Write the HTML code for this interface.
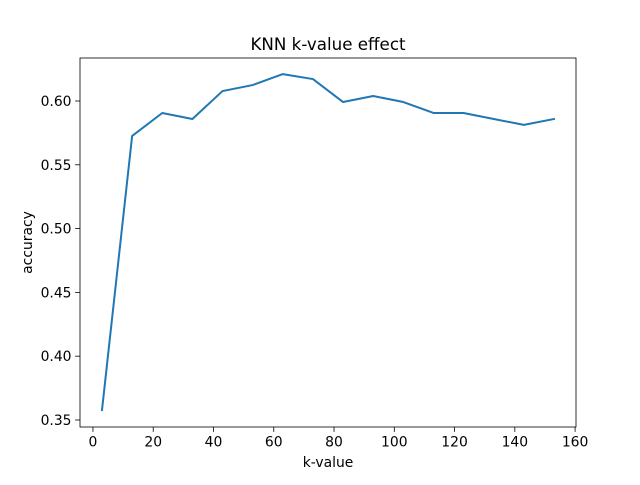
<!DOCTYPE html>
<html><head><meta charset="utf-8"><style>
body{margin:0;background:#fff;font-family:"Liberation Sans","DejaVu Sans",sans-serif;}
svg text{font-family:"DejaVu Sans","Liberation Sans",sans-serif;}
</style></head><body>
<svg id="chart" width="640" height="480" xmlns="http://www.w3.org/2000/svg"></svg>
<script>
const kValues=[3,13,23,33,43,53,63,73,83,93,103,113,123,133,143,153];
const accuracy=[0.3578,0.5726,0.5906,0.5859,0.6078,0.6125,0.6211,0.6172,0.5992,0.6039,0.5992,0.5906,0.5906,0.5859,0.5813,0.5859];
const xTicks=[0,20,40,60,80,100,120,140,160];
const yTicks=[0.35,0.40,0.45,0.50,0.55,0.60];
const L=80,R=576,T=58,B=427;
const xMin=-4.3,xMax=160.3,yMin=0.3445,yMax=0.6337;
const sx=v=>L+(v-xMin)/(xMax-xMin)*(R-L);
const sy=v=>B-(v-yMin)/(yMax-yMin)*(B-T);
const svg=document.getElementById('chart');
const NS='http://www.w3.org/2000/svg';
function mk(tag,attrs,parent){const e=document.createElementNS(NS,tag);for(const k in attrs)e.setAttribute(k,attrs[k]);(parent||svg).appendChild(e);return e;}
let t=mk('text',{x:328,y:50,'text-anchor':'middle','font-size':16.7,fill:'#000'});


t.textContent='KNN k-value effect';
const pts=kValues.map((k,i)=>sx(k).toFixed(2)+','+sy(accuracy[i]).toFixed(2)).join(' ');
let line=mk('polyline',{points:pts,fill:'none',stroke:'#1f77b4','stroke-width':2,'stroke-linecap':'square','stroke-linejoin':'round'});


let frame=mk('rect',{x:L,y:T,width:R-L,height:B-T,fill:'none',stroke:'#000','stroke-width':0.8});


xTicks.forEach(v=>{const x=sx(v);
 mk('line',{x1:x,x2:x,y1:B,y2:B+4.9,stroke:'#000','stroke-width':0.8});
 const tx=mk('text',{x:x,y:B+19.5,'text-anchor':'middle','font-size':13.9,fill:'#000'});
 
 
 tx.textContent=v;});
yTicks.forEach(v=>{const y=sy(v);
 mk('line',{x1:L-4.9,x2:L,y1:y,y2:y,stroke:'#000','stroke-width':0.8});
 const tx=mk('text',{x:L-8.5,y:y+5,'text-anchor':'end','font-size':13.9,fill:'#000'});
 
 
 tx.textContent=v.toFixed(2);});
let xl=mk('text',{x:328,y:467,'text-anchor':'middle','font-size':13.9,fill:'#000'});


xl.textContent='k-value';
let yl=mk('text',{x:0,y:0,'text-anchor':'middle','font-size':13.9,fill:'#000',transform:'translate(32,242.5) rotate(-90)'});


yl.textContent='accuracy';
</script>
</body></html>
